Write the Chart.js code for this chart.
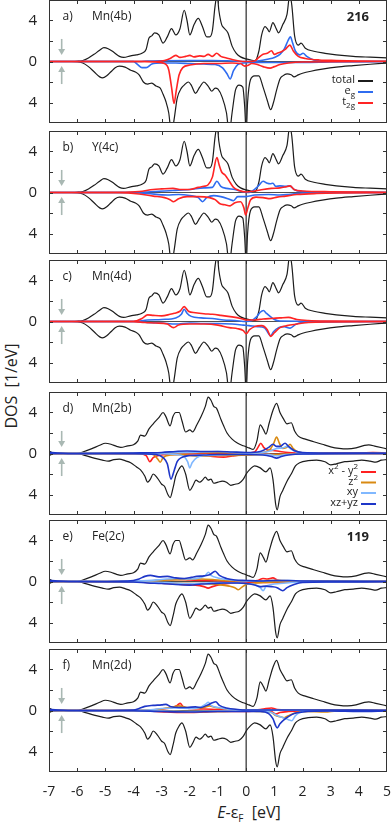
<!DOCTYPE html>
<html>
<head>
<meta charset="utf-8">
<script src="https://cdn.jsdelivr.net/npm/chart.js@4/dist/chart.umd.min.js"></script>
<style>
body { margin: 0; background: #fff; width: 391px; height: 828px; position: relative; overflow: hidden; font-family: 'Open Sans', sans-serif; color: #222; }
.panel { position: absolute; left: 0; width: 391px; }
.panel canvas { display: block; }
#ylab { position: absolute; left: 11px; top: 386px; transform: translate(-50%, -50%) rotate(-90deg); font-size: 16px; white-space: nowrap; }
#xlab { position: absolute; left: 249px; top: 813px; transform: translate(-50%, -50%); font-size: 16px; white-space: nowrap; }
#xlab sub { font-size: 10px; }
</style>
</head>
<body>
<div id="ylab">DOS&nbsp;&nbsp;[1/eV]</div>
<div id="xlab"><i>E</i>-&epsilon;<sub>F</sub>&nbsp;&nbsp;[eV]</div>
<script>
// [E, DOS] pairs; spin-down stored as positive and drawn below zero
var tot216Up = [[-7,0],[-6.2,0],[-6,0.02],[-5.8,0.1],[-5.6,0.35],[-5.4,0.7],[-5.2,1.1],[-5.05,1.35],[-4.9,1.25],[-4.7,0.9],[-4.5,0.5],[-4.35,0.4],[-4.1,0.55],[-3.9,0.65],[-3.7,0.8],[-3.55,1.2],[-3.45,2.3],[-3.35,2.5],[-3.25,2.8],[-3.1,2.6],[-2.95,1.8],[-2.8,2.4],[-2.65,3.2],[-2.5,2.6],[-2.35,3.2],[-2.2,5.0],[-2.1,4.0],[-2.0,2.6],[-1.85,3.6],[-1.7,4.2],[-1.55,3.4],[-1.4,2.4],[-1.3,2.4],[-1.2,3.0],[-1.1,5.5],[-1.03,6.5],[-0.97,5.0],[-0.87,3.6],[-0.8,3.3],[-0.65,2.8],[-0.5,1.5],[-0.35,0.8],[-0.2,0.45],[0,0.25],[0.2,0.12],[0.32,0.1],[0.45,1.0],[0.55,2.6],[0.67,3.4],[0.75,3.2],[0.82,2.9],[0.95,3.8],[1.05,3.3],[1.15,2.8],[1.3,3.6],[1.45,4.6],[1.55,6.5],[1.62,5.5],[1.72,2.5],[1.85,1.6],[1.95,1.8],[2.1,1.3],[2.4,1.0],[2.8,0.8],[3.2,0.65],[3.8,0.5],[4.4,0.42],[5,0.35]];
var tot216Dn = [[-7,0],[-6.2,0],[-6,0.02],[-5.8,0.15],[-5.6,0.5],[-5.4,1.0],[-5.2,1.5],[-5.1,1.6],[-4.95,1.4],[-4.8,1.0],[-4.65,0.6],[-4.5,0.45],[-4.3,0.55],[-4.1,0.85],[-3.95,1.0],[-3.8,1.3],[-3.65,2.0],[-3.5,2.2],[-3.35,2.1],[-3.2,2.4],[-3.05,2.6],[-2.95,3.2],[-2.85,3.9],[-2.75,5.0],[-2.65,7.0],[-2.55,5.5],[-2.45,3.6],[-2.3,2.6],[-2.2,2.3],[-2.05,2.0],[-1.95,2.3],[-1.8,3.1],[-1.65,2.5],[-1.5,2.0],[-1.35,2.4],[-1.22,2.9],[-1.1,2.6],[-1.0,2.7],[-0.85,3.5],[-0.7,5.0],[-0.6,7.0],[-0.5,5.0],[-0.38,2.8],[-0.25,2.3],[-0.12,2.5],[-0.05,4.5],[0,7.0],[0.05,4.0],[0.15,1.8],[0.3,1.4],[0.45,1.4],[0.6,2.5],[0.75,3.8],[0.87,4.7],[0.97,4.0],[1.08,2.8],[1.2,1.7],[1.3,1.4],[1.45,1.2],[1.6,1.3],[1.7,1.5],[1.85,1.3],[2.0,1.15],[2.3,0.95],[2.7,0.75],[3.2,0.55],[3.8,0.4],[4.4,0.27],[5,0.15]];
var tot119Up = [[-7,0.25],[-6.9,0.1],[-6.7,0.02],[-6,0],[-5.8,0.15],[-5.5,0.45],[-5.2,0.8],[-5.0,1.0],[-4.8,0.9],[-4.6,0.7],[-4.45,0.6],[-4.2,0.75],[-4.0,0.85],[-3.85,1.2],[-3.75,1.8],[-3.6,1.7],[-3.45,2.4],[-3.3,2.9],[-3.1,3.5],[-2.95,4.0],[-2.85,3.6],[-2.7,2.7],[-2.6,3.6],[-2.5,4.0],[-2.38,4.0],[-2.28,3.2],[-2.15,2.1],[-2.0,2.3],[-1.9,2.1],[-1.75,2.8],[-1.6,3.6],[-1.45,4.6],[-1.35,5.5],[-1.25,5.2],[-1.15,4.6],[-1.05,4.4],[-0.92,3.5],[-0.8,2.7],[-0.68,2.0],[-0.5,1.4],[-0.3,1.0],[-0.1,0.75],[0.1,0.55],[0.25,0.4],[0.38,1.2],[0.5,2.8],[0.62,2.3],[0.7,1.9],[0.82,3.0],[0.95,4.2],[1.08,4.9],[1.2,4.0],[1.32,3.4],[1.45,2.9],[1.6,3.0],[1.72,2.2],[1.85,1.7],[2.1,1.4],[2.4,1.15],[2.7,0.9],[3.0,0.65],[3.3,0.5],[3.6,0.45],[3.9,0.55],[4.2,0.8],[4.35,0.85],[4.6,0.7],[5,0.45]];
var tot119Dn = [[-7,0.2],[-6.85,0.05],[-6,0],[-5.7,0.2],[-5.4,0.45],[-5.1,0.65],[-4.9,0.75],[-4.7,0.6],[-4.5,0.55],[-4.3,0.7],[-4.1,0.9],[-3.9,1.3],[-3.75,1.6],[-3.6,2.2],[-3.5,2.8],[-3.4,2.5],[-3.3,2.0],[-3.15,2.4],[-3.0,3.0],[-2.9,3.2],[-2.78,4.0],[-2.7,4.3],[-2.6,3.4],[-2.5,2.2],[-2.4,1.6],[-2.28,1.2],[-2.15,2.0],[-2.0,3.6],[-1.9,3.2],[-1.78,2.6],[-1.65,2.8],[-1.55,2.6],[-1.45,2.3],[-1.35,2.6],[-1.25,2.5],[-1.15,2.9],[-1.0,2.8],[-0.85,2.7],[-0.7,2.8],[-0.55,3.1],[-0.4,3.0],[-0.25,2.9],[-0.1,2.5],[0,2.0],[0.15,1.5],[0.3,1.2],[0.5,1.4],[0.7,1.8],[0.85,1.4],[0.95,2.5],[1.05,5.0],[1.1,5.5],[1.2,4.2],[1.3,3.6],[1.45,2.7],[1.6,2.0],[1.75,1.2],[1.9,0.9],[2.2,0.7],[2.5,0.65],[2.8,0.8],[3.0,1.1],[3.2,1.0],[3.5,0.8],[3.8,0.75],[4.1,0.65],[4.4,0.75],[4.6,0.85],[4.8,0.65],[5,0.6]];

// a) Mn(4b)
var mn4bEgUp = [[-7,0],[-3.8,0],[-3.5,0.05],[-3,0.08],[-2,0.1],[-1.2,0.1],[-0.5,0.05],[0,0],[0.4,0.05],[0.8,0.25],[1.0,0.4],[1.2,0.7],[1.35,1.2],[1.48,2.0],[1.57,2.4],[1.65,1.8],[1.75,1.0],[1.9,0.65],[2.02,0.8],[2.15,0.5],[2.4,0.15],[2.8,0.05],[5,0]];
var mn4bEgDn = [[-7,0],[-4.0,0],[-3.85,0.3],[-3.7,0.6],[-3.55,0.6],[-3.35,0.25],[-3.0,0.15],[-2.5,0.15],[-2,0.2],[-1.5,0.25],[-1.1,0.3],[-0.85,0.6],[-0.68,1.2],[-0.57,1.7],[-0.45,0.9],[-0.3,0.3],[-0.1,0.15],[0.1,0.1],[0.5,0.1],[1.0,0.1],[2,0.1],[3,0.05],[5,0]];
var mn4bT2gUp = [[-7,0],[-3.2,0],[-2.9,0.1],[-2.7,0.3],[-2.5,0.6],[-2.35,0.4],[-2.15,0.5],[-2.0,0.6],[-1.85,0.45],[-1.65,0.55],[-1.5,0.5],[-1.35,0.7],[-1.2,0.5],[-1.05,0.8],[-0.9,0.5],[-0.7,0.35],[-0.5,0.2],[-0.25,0.05],[0,0],[0.3,0.05],[0.45,0.4],[0.6,0.7],[0.75,0.8],[0.9,1.05],[1.0,0.7],[1.1,0.8],[1.25,0.95],[1.4,1.2],[1.55,1.6],[1.68,1.0],[1.85,0.5],[2.1,0.3],[2.6,0.15],[3.2,0.1],[4,0.05],[5,0.02]];
var mn4bT2gDn = [[-7,0],[-3.6,0],[-3.2,0.05],[-2.9,0.2],[-2.75,0.8],[-2.65,2.5],[-2.56,4.1],[-2.48,2.8],[-2.38,1.3],[-2.25,0.6],[-2.0,0.35],[-1.5,0.2],[-1.0,0.2],[-0.5,0.15],[-0.2,0.2],[-0.05,0.45],[0.05,0.4],[0.2,0.2],[0.4,0.3],[0.6,0.5],[0.85,0.65],[1.0,0.5],[1.2,0.3],[1.5,0.15],[2,0.05],[5,0]];

// b) Y(4c)
var y4cEgUp = [[-7,0],[-4,0],[-3.5,0.05],[-2.6,0.2],[-2.0,0.3],[-1.5,0.45],[-1.2,0.5],[-1.04,1.1],[-0.9,0.6],[-0.7,0.4],[-0.4,0.3],[-0.1,0.05],[0.1,0],[0.3,0.3],[0.45,0.7],[0.6,1.1],[0.75,0.9],[0.85,0.85],[0.95,0.9],[1.05,0.6],[1.2,0.65],[1.4,0.6],[1.55,0.65],[1.7,0.3],[2.0,0.1],[3,0.03],[5,0]];
var y4cEgDn = [[-7,0],[-4,0],[-3.5,0.1],[-2.8,0.25],[-2.4,0.2],[-2.0,0.3],[-1.7,0.5],[-1.55,0.9],[-1.4,0.5],[-1.15,0.3],[-0.9,0.4],[-0.65,0.6],[-0.45,0.8],[-0.3,0.4],[0,0.4],[0.3,0.25],[0.8,0.2],[1.2,0.25],[1.5,0.2],[2,0.05],[5,0]];
var y4cT2gUp = [[-7,0],[-4.5,0.02],[-3.8,0.1],[-3.3,0.3],[-3.0,0.35],[-2.6,0.4],[-2.3,0.3],[-2.0,0.3],[-1.7,0.5],[-1.5,0.6],[-1.35,0.75],[-1.2,1.5],[-1.04,3.4],[-0.95,2.6],[-0.87,2.0],[-0.75,1.7],[-0.62,1.2],[-0.45,0.5],[-0.25,0.2],[0,0.05],[0.3,0.15],[0.6,0.3],[0.9,0.4],[1.2,0.45],[1.4,0.55],[1.56,0.65],[1.7,0.3],[2.0,0.15],[3,0.08],[5,0.03]];
var y4cT2gDn = [[-7,0],[-4.5,0.02],[-3.8,0.15],[-3.3,0.35],[-2.9,0.5],[-2.7,0.7],[-2.58,0.9],[-2.4,0.6],[-2.1,0.4],[-1.7,0.4],[-1.3,0.5],[-1.1,0.7],[-0.93,1.1],[-0.75,1.2],[-0.57,1.3],[-0.4,1.0],[-0.2,0.9],[-0.08,1.5],[-0.02,2.2],[0.06,1.5],[0.15,0.75],[0.35,0.45],[0.6,0.5],[0.85,0.6],[1.1,0.45],[1.4,0.35],[1.8,0.2],[2.5,0.1],[3.5,0.05],[5,0.02]];

// c) Mn(4d)
var mn4dEgUp = [[-7,0],[-4,0],[-3.5,0.15],[-3,0.2],[-2.5,0.35],[-2.3,0.7],[-2.2,1.2],[-2.1,0.8],[-1.95,0.5],[-1.6,0.35],[-1.2,0.3],[-0.8,0.15],[-0.4,0.1],[0,0],[0.2,0.1],[0.35,0.4],[0.5,0.9],[0.61,1.07],[0.72,0.8],[0.85,0.5],[1.0,0.2],[1.2,0.05],[5,0]];
var mn4dEgDn = [[-7,0],[-4,0],[-3.5,0.1],[-3.0,0.15],[-2.5,0.25],[-2.0,0.15],[-1.5,0.2],[-1.0,0.2],[-0.5,0.25],[-0.1,0.35],[0.1,0.4],[0.4,0.5],[0.65,0.6],[0.8,1.2],[0.87,1.4],[0.97,1.0],[1.15,0.6],[1.35,0.5],[1.56,0.65],[1.75,0.3],[2.0,0.1],[5,0]];
var mn4dT2gUp = [[-7,0],[-4,0.02],[-3.7,0.3],[-3.5,0.65],[-3.3,0.6],[-3.0,0.55],[-2.7,0.7],[-2.55,0.8],[-2.35,1.0],[-2.2,1.45],[-2.05,1.0],[-1.8,0.85],[-1.5,0.75],[-1.2,0.7],[-0.9,0.6],[-0.5,0.45],[-0.2,0.3],[0,0.15],[0.3,0.15],[0.6,0.25],[0.9,0.3],[1.2,0.35],[1.5,0.4],[1.8,0.2],[2.2,0.1],[3,0.05],[5,0.02]];
var mn4dT2gDn = [[-7,0],[-4,0.02],[-3.6,0.1],[-3.2,0.15],[-2.8,0.25],[-2.58,0.6],[-2.4,0.35],[-2.0,0.25],[-1.5,0.25],[-1.0,0.35],[-0.6,0.6],[-0.3,0.7],[-0.1,0.9],[0,1.2],[0.12,0.8],[0.3,0.5],[0.55,0.4],[0.75,0.8],[0.87,1.45],[1.0,1.1],[1.2,0.6],[1.45,0.4],[1.8,0.25],[2.2,0.1],[3,0.05],[5,0.02]];

// d) Mn(2b)
var mn2bX2y2Up = [[-7,0],[-3,0.02],[-1,0.05],[0,0.05],[0.3,0.15],[0.42,0.6],[0.52,1.0],[0.62,0.6],[0.75,0.35],[0.95,0.3],[1.2,0.2],[1.5,0.1],[2,0.05],[4,0.05],[4.5,0.1],[5,0.05]];
var mn2bX2y2Dn = [[-7,0],[-3.8,0.02],[-3.55,0.2],[-3.42,0.8],[-3.3,0.4],[-3.1,0.2],[-2.8,0.1],[-2.4,0.1],[-2,0.15],[-1.5,0.2],[-1.2,0.3],[-0.8,0.35],[-0.5,0.25],[-0.2,0.15],[0,0.1],[0.5,0.05],[1.0,0.1],[1.5,0.05],[5,0.02]];
var mn2bZ2Up = [[-7,0],[-3,0.05],[-1,0.1],[0,0.05],[0.6,0.1],[0.85,0.4],[0.98,1.0],[1.08,1.6],[1.18,1.0],[1.3,0.5],[1.45,0.6],[1.56,0.9],[1.66,0.5],[1.85,0.15],[2.2,0.05],[5,0]];
var mn2bZ2Dn = [[-7,0],[-3.6,0.02],[-3.3,0.1],[-3.15,0.5],[-3.05,0.85],[-2.95,0.4],[-2.7,0.15],[-2.3,0.1],[-2,0.2],[-1.5,0.25],[-1,0.2],[-0.5,0.2],[0,0.15],[0.5,0.1],[1,0.1],[1.5,0.05],[5,0]];
var mn2bXyUp = [[-7,0],[-3,0.05],[-2,0.1],[-1,0.2],[0,0.05],[0.6,0.1],[0.9,0.3],[1.1,0.5],[1.3,0.55],[1.45,0.7],[1.6,0.4],[1.8,0.15],[2.2,0.05],[5,0]];
var mn2bXyDn = [[-7,0],[-3,0.02],[-2.5,0.1],[-2.2,0.3],[-2.08,0.8],[-2.0,1.4],[-1.92,0.9],[-1.75,0.4],[-1.5,0.2],[-1,0.15],[0,0.05],[0.8,0.1],[1.1,0.25],[1.4,0.1],[5,0]];
var mn2bXzyzUp = [[-7,0.1],[-6.7,0.05],[-6,0],[-4,0.05],[-3.0,0.1],[-2.5,0.2],[-2.1,0.25],[-1.5,0.2],[-1.0,0.2],[-0.5,0.15],[0,0.1],[0.5,0.2],[0.8,0.6],[0.95,0.9],[1.08,0.7],[1.2,0.7],[1.38,1.0],[1.5,0.7],[1.7,0.3],[2.0,0.1],[3,0.05],[5,0.02]];
var mn2bXzyzDn = [[-7,0],[-4,0.02],[-3.2,0.1],[-2.95,0.4],[-2.8,1.0],[-2.67,2.5],[-2.55,1.6],[-2.45,0.8],[-2.3,0.4],[-2.0,0.2],[-1.5,0.15],[-1,0.1],[0,0.1],[0.6,0.15],[0.9,0.3],[1.08,0.45],[1.25,0.3],[1.5,0.15],[2,0.05],[5,0]];

// e) Fe(2c)
var fe2cX2y2Up = [[-7,0],[-3.5,0.05],[-3.0,0.15],[-2.5,0.2],[-2,0.15],[-1.5,0.1],[0,0.05],[0.4,0.1],[0.6,0.3],[0.75,0.25],[0.95,0.35],[1.1,0.15],[1.5,0.05],[5,0]];
var fe2cX2y2Dn = [[-7,0],[-3.8,0.05],[-3.2,0.15],[-2.8,0.2],[-2.3,0.3],[-1.8,0.35],[-1.5,0.5],[-1.35,0.65],[-1.2,0.5],[-0.9,0.3],[-0.5,0.15],[0,0.1],[0.5,0.1],[1,0.1],[1.5,0.05],[5,0]];
var fe2cZ2Up = [[-7,0],[-3.5,0.05],[-2.8,0.15],[-2.2,0.2],[-1.6,0.25],[-1.2,0.2],[-0.8,0.1],[0,0.05],[0.8,0.1],[1.2,0.1],[2,0.05],[5,0]];
var fe2cZ2Dn = [[-7,0],[-3.5,0.05],[-2.5,0.15],[-1.5,0.2],[-1.0,0.3],[-0.6,0.45],[-0.4,0.6],[-0.28,0.8],[-0.15,0.55],[0,0.3],[0.3,0.15],[0.6,0.1],[1,0.05],[5,0]];
var fe2cXyUp = [[-7,0],[-3.5,0.1],[-3,0.2],[-2.5,0.3],[-2,0.25],[-1.6,0.4],[-1.45,0.6],[-1.34,0.9],[-1.25,0.6],[-1.0,0.35],[-0.5,0.15],[0,0.05],[0.5,0.05],[1,0.1],[1.5,0.1],[2,0.05],[5,0]];
var fe2cXyDn = [[-7,0],[-3.5,0.05],[-2.5,0.15],[-2,0.2],[-1.5,0.15],[-1,0.1],[-0.3,0.15],[0,0.2],[0.3,0.3],[0.5,0.6],[0.6,0.9],[0.7,0.5],[0.9,0.3],[1.2,0.2],[1.6,0.1],[2.2,0.05],[5,0]];
var fe2cXzyzUp = [[-7,0.1],[-6.7,0.05],[-6,0],[-4.2,0.05],[-3.8,0.25],[-3.6,0.5],[-3.4,0.6],[-3.1,0.45],[-2.8,0.5],[-2.5,0.35],[-2.2,0.3],[-1.95,0.4],[-1.75,0.5],[-1.5,0.55],[-1.3,0.65],[-1.1,1.0],[-0.95,0.6],[-0.7,0.3],[-0.4,0.15],[0,0.1],[0.5,0.05],[1,0.1],[1.5,0.1],[2,0.05],[5,0.02]];
var fe2cXzyzDn = [[-7,0],[-4,0.05],[-3.5,0.15],[-3,0.2],[-2.5,0.3],[-2,0.35],[-1.6,0.25],[-1.2,0.2],[-0.8,0.15],[-0.3,0.15],[0,0.2],[0.3,0.35],[0.5,0.5],[0.7,0.45],[0.9,0.5],[1.1,0.6],[1.3,0.9],[1.45,0.6],[1.7,0.3],[2.0,0.1],[3,0.05],[5,0.02]];

// f) Mn(2d)
var mn2dX2y2Up = [[-7,0],[-3.5,0.05],[-3,0.15],[-2.6,0.3],[-2.45,0.5],[-2.34,0.7],[-2.25,0.4],[-2,0.2],[-1.5,0.15],[-1,0.1],[0,0.05],[0.5,0.1],[0.7,0.2],[0.9,0.25],[1.1,0.1],[1.5,0.05],[5,0]];
var mn2dX2y2Dn = [[-7,0],[-3.5,0.05],[-2.8,0.15],[-2.3,0.2],[-1.5,0.15],[-1,0.1],[0,0.1],[0.5,0.05],[0.9,0.1],[1.05,0.35],[1.2,0.2],[1.5,0.1],[2,0.05],[5,0]];
var mn2dZ2Up = [[-7,0],[-3.5,0.05],[-3,0.15],[-2.6,0.35],[-2.4,0.45],[-2.1,0.3],[-1.8,0.2],[-1.5,0.3],[-1.3,0.45],[-1.1,0.3],[-0.7,0.15],[0,0.05],[1,0.05],[2,0.05],[2.8,0.05],[5,0]];
var mn2dZ2Dn = [[-7,0],[-3,0.05],[-2,0.1],[-1,0.1],[0,0.05],[0.5,0.1],[0.9,0.2],[1.05,0.5],[1.2,0.6],[1.35,0.7],[1.5,0.5],[1.8,0.2],[2.2,0.1],[2.8,0.15],[3.2,0.05],[5,0]];
var mn2dXyUp = [[-7,0],[-3.5,0.05],[-3,0.2],[-2.5,0.25],[-2,0.2],[-1.6,0.35],[-1.45,0.6],[-1.34,0.8],[-1.25,0.5],[-1,0.3],[-0.5,0.1],[0,0.05],[5,0]];
var mn2dXyDn = [[-7,0],[-3,0.05],[-2,0.1],[-1,0.05],[0,0.05],[0.6,0.1],[0.9,0.2],[1.1,0.5],[1.3,0.7],[1.5,0.9],[1.62,1.0],[1.75,0.5],[1.9,0.2],[2.2,0.05],[5,0]];
var mn2dXzyzUp = [[-7,0.1],[-6.7,0.05],[-6,0],[-4,0.05],[-3.8,0.2],[-3.6,0.4],[-3.3,0.5],[-3.0,0.55],[-2.85,0.6],[-2.7,0.4],[-2.4,0.3],[-2.1,0.3],[-1.8,0.35],[-1.6,0.3],[-1.4,0.5],[-1.2,0.75],[-1.08,0.85],[-0.95,0.5],[-0.7,0.25],[-0.3,0.1],[0,0.05],[0.5,0.05],[1,0.05],[2,0.05],[5,0.02]];
var mn2dXzyzDn = [[-7,0],[-4,0.02],[-3,0.1],[-2,0.15],[-1,0.1],[0,0.1],[0.5,0.1],[0.8,0.3],[0.95,0.8],[1.05,1.5],[1.1,1.7],[1.2,1.3],[1.35,0.9],[1.5,0.6],[1.7,0.3],[2.0,0.15],[3,0.05],[4,0.1],[5,0.05]];

var colTotal = '#1c1c1c', colEg = '#2f6cf0', colT2g = '#ff2424';
var colX2y2 = '#ff2020', colZ2 = '#d98a12', colXy = '#80b8ff', colXzyz = '#1e36c8';

var legend216 = [
    {parts: [['total', 0]], color: colTotal},
    {parts: [['e', 0], ['g', 1]], color: colEg},
    {parts: [['t', 0], ['2g', 1]], color: colT2g}
];
var legend119 = [
    {parts: [['x', 0], ['2', 2], [' - y', 0], ['2', 2]], color: colX2y2},
    {parts: [['z', 0], ['2', 2]], color: colZ2},
    {parts: [['xy', 0]], color: colXy},
    {parts: [['xz+yz', 0]], color: colXzyz}
];

var panels = [
    {tag: 'a)', name: 'Mn(4b)', top: 0, tot: [tot216Up, tot216Dn], num: '216', legend: legend216, legX: 355, legY: [80, 91, 102],
     parts: [[mn4bEgUp, mn4bEgDn, colEg], [mn4bT2gUp, mn4bT2gDn, colT2g]]},
    {tag: 'b)', name: 'Y(4c)', top: 131, tot: [tot216Up, tot216Dn],
     parts: [[y4cEgUp, y4cEgDn, colEg], [y4cT2gUp, y4cT2gDn, colT2g]]},
    {tag: 'c)', name: 'Mn(4d)', top: 260, tot: [tot216Up, tot216Dn],
     parts: [[mn4dEgUp, mn4dEgDn, colEg], [mn4dT2gUp, mn4dT2gDn, colT2g]]},
    {tag: 'd)', name: 'Mn(2b)', top: 392, tot: [tot119Up, tot119Dn], legend: legend119, legX: 358, legY: [79, 89.5, 100, 111],
     parts: [[mn2bX2y2Up, mn2bX2y2Dn, colX2y2], [mn2bZ2Up, mn2bZ2Dn, colZ2], [mn2bXyUp, mn2bXyDn, colXy], [mn2bXzyzUp, mn2bXzyzDn, colXzyz]]},
    {tag: 'e)', name: 'Fe(2c)', top: 520, tot: [tot119Up, tot119Dn], num: '119',
     parts: [[fe2cX2y2Up, fe2cX2y2Dn, colX2y2], [fe2cZ2Up, fe2cZ2Dn, colZ2], [fe2cXyUp, fe2cXyDn, colXy], [fe2cXzyzUp, fe2cXzyzDn, colXzyz]]},
    {tag: 'f)', name: 'Mn(2d)', top: 649, tot: [tot119Up, tot119Dn],
     parts: [[mn2dX2y2Up, mn2dX2y2Dn, colX2y2], [mn2dZ2Up, mn2dZ2Dn, colZ2], [mn2dXyUp, mn2dXyDn, colXy], [mn2dXzyzUp, mn2dXzyzDn, colXzyz]]}
];

var FONT = '"Open Sans", sans-serif';

function line(arr, sign, color, w) {
    return {
        data: arr.map(function (p) { return {x: p[0], y: sign * p[1]}; }),
        borderColor: color, borderWidth: w, pointRadius: 0, fill: false,
        cubicInterpolationMode: 'monotone'
    };
}

// text with sub (1) / superscript (2) pieces, right aligned at xr
function drawRich(ctx, parts, xr, y) {
    var w = 0, i, x;
    for (i = 0; i < parts.length; i++) {
        ctx.font = (parts[i][1] ? '8px ' : '11px ') + FONT;
        w += ctx.measureText(parts[i][0]).width;
    }
    x = xr - w;
    ctx.textAlign = 'left';
    ctx.textBaseline = 'middle';
    for (i = 0; i < parts.length; i++) {
        var k = parts[i][1];
        ctx.font = (k ? '8px ' : '11px ') + FONT;
        ctx.fillText(parts[i][0], x, y + (k === 1 ? 4 : k === 2 ? -4 : 0));
        x += ctx.measureText(parts[i][0]).width;
    }
}

function arrow(ctx, x, y1, y2) {
    var dir = y2 > y1 ? 1 : -1;
    ctx.beginPath();
    ctx.moveTo(x, y1);
    ctx.lineTo(x, y2 - dir * 5);
    ctx.stroke();
    ctx.beginPath();
    ctx.moveTo(x, y2);
    ctx.lineTo(x - 3.5, y2 - dir * 6);
    ctx.lineTo(x + 3.5, y2 - dir * 6);
    ctx.closePath();
    ctx.fill();
}

function makeDecor(p) {
    return {
        id: 'decor',
        beforeDatasetsDraw: function (chart) {
            var a = chart.chartArea, ctx = chart.ctx;
            var x0 = chart.scales.x.getPixelForValue(0), y0 = chart.scales.y.getPixelForValue(0);
            ctx.save();
            ctx.strokeStyle = '#222';
            ctx.lineWidth = 0.8;
            ctx.beginPath();
            ctx.moveTo(a.left, y0);
            ctx.lineTo(a.right, y0);
            ctx.stroke();
            ctx.strokeStyle = '#3a3a3a';
            ctx.lineWidth = 1.3;
            ctx.beginPath();
            ctx.moveTo(x0, a.top);
            ctx.lineTo(x0, a.bottom);
            ctx.stroke();
            ctx.restore();
        },
        afterDraw: function (chart) {
            var a = chart.chartArea, ctx = chart.ctx, sx = chart.scales.x, sy = chart.scales.y;
            var v, px, i;
            ctx.save();
            // frame and inward ticks
            ctx.strokeStyle = '#333';
            ctx.lineWidth = 1;
            ctx.strokeRect(a.left + 0.5, a.top + 0.5, a.right - a.left - 1, a.bottom - a.top - 1);
            ctx.beginPath();
            for (v = -6; v <= 4; v++) {
                px = Math.round(sx.getPixelForValue(v)) + 0.5;
                ctx.moveTo(px, a.top); ctx.lineTo(px, a.top + 4);
                ctx.moveTo(px, a.bottom); ctx.lineTo(px, a.bottom - 4);
            }
            for (v = -4; v <= 4; v += 2) {
                px = Math.round(sy.getPixelForValue(v)) + 0.5;
                ctx.moveTo(a.left, px); ctx.lineTo(a.left + 4, px);
                ctx.moveTo(a.right, px); ctx.lineTo(a.right - 4, px);
            }
            ctx.stroke();

            // spin arrows
            ctx.strokeStyle = '#a9b8b3';
            ctx.fillStyle = '#a9b8b3';
            ctx.lineWidth = 1.6;
            px = sx.getPixelForValue(-6.55);
            arrow(ctx, px, sy.getPixelForValue(2.2), sy.getPixelForValue(0.63));
            arrow(ctx, px, sy.getPixelForValue(-2.2), sy.getPixelForValue(-0.44));

            // labels
            ctx.fillStyle = '#222';
            ctx.textBaseline = 'middle';
            ctx.textAlign = 'left';
            ctx.font = '12px ' + FONT;
            ctx.fillText(p.tag, 62.5, a.top + 17);
            ctx.fillText(p.name, 92, a.top + 17);
            if (p.num) {
                ctx.font = 'bold 13px ' + FONT;
                ctx.textAlign = 'right';
                ctx.fillText(p.num, 369, a.top + 17);
            }
            if (p.legend) {
                for (i = 0; i < p.legend.length; i++) {
                    var it = p.legend[i], ly = a.top + p.legY[i];
                    ctx.fillStyle = '#222';
                    drawRich(ctx, it.parts, p.legX, ly);
                    ctx.strokeStyle = it.color;
                    ctx.lineWidth = 2;
                    ctx.beginPath();
                    ctx.moveTo(p.legX + 3, ly + 1);
                    ctx.lineTo(p.legX + 18, ly + 1);
                    ctx.stroke();
                }
            }
            ctx.restore();
        }
    };
}

panels.forEach(function (p, i) {
    var last = i === panels.length - 1;
    var box = document.createElement('div');
    box.className = 'panel';
    box.style.top = (p.top - 2) + 'px';
    box.style.height = (last ? 155 : 127) + 'px';
    var cv = document.createElement('canvas');
    box.appendChild(cv);
    document.body.appendChild(box);

    var sets = [line(p.tot[0], 1, colTotal, 1.2), line(p.tot[1], -1, colTotal, 1.2)];
    p.parts.forEach(function (q) {
        sets.push(line(q[0], 1, q[2], 1.6));
        sets.push(line(q[1], -1, q[2], 1.6));
    });
    sets.reverse(); // first dataset is painted last

    new Chart(cv, {
        type: 'line',
        data: {datasets: sets},
        options: {
            responsive: true,
            maintainAspectRatio: false,
            animation: false,
            events: [],
            layout: {padding: {left: 0, right: 4, top: 2, bottom: last ? 0 : 2}},
            plugins: {legend: {display: false}, tooltip: {enabled: false}},
            scales: {
                x: {
                    type: 'linear', min: -7, max: 5, display: last,
                    grid: {display: false}, border: {display: false},
                    ticks: {stepSize: 1, autoSkip: false, maxRotation: 0, padding: 4, color: '#222', font: {family: FONT, size: 14}},
                    afterFit: function (s) { s.height = last ? 30 : 0; s.paddingLeft = 0; s.paddingRight = 0; }
                },
                y: {
                    min: -6, max: 6,
                    grid: {display: false}, border: {display: false},
                    ticks: {
                        stepSize: 2, autoSkip: false, padding: 4, color: '#222', font: {family: FONT, size: 15},
                        callback: function (v) { return v === 0 ? '0' : Math.abs(v) === 4 ? '4' : ''; }
                    },
                    afterFit: function (s) { s.width = 49; s.paddingTop = 0; s.paddingBottom = 0; }
                }
            }
        },
        plugins: [makeDecor(p)]
    });
});
</script>
</body>
</html>
